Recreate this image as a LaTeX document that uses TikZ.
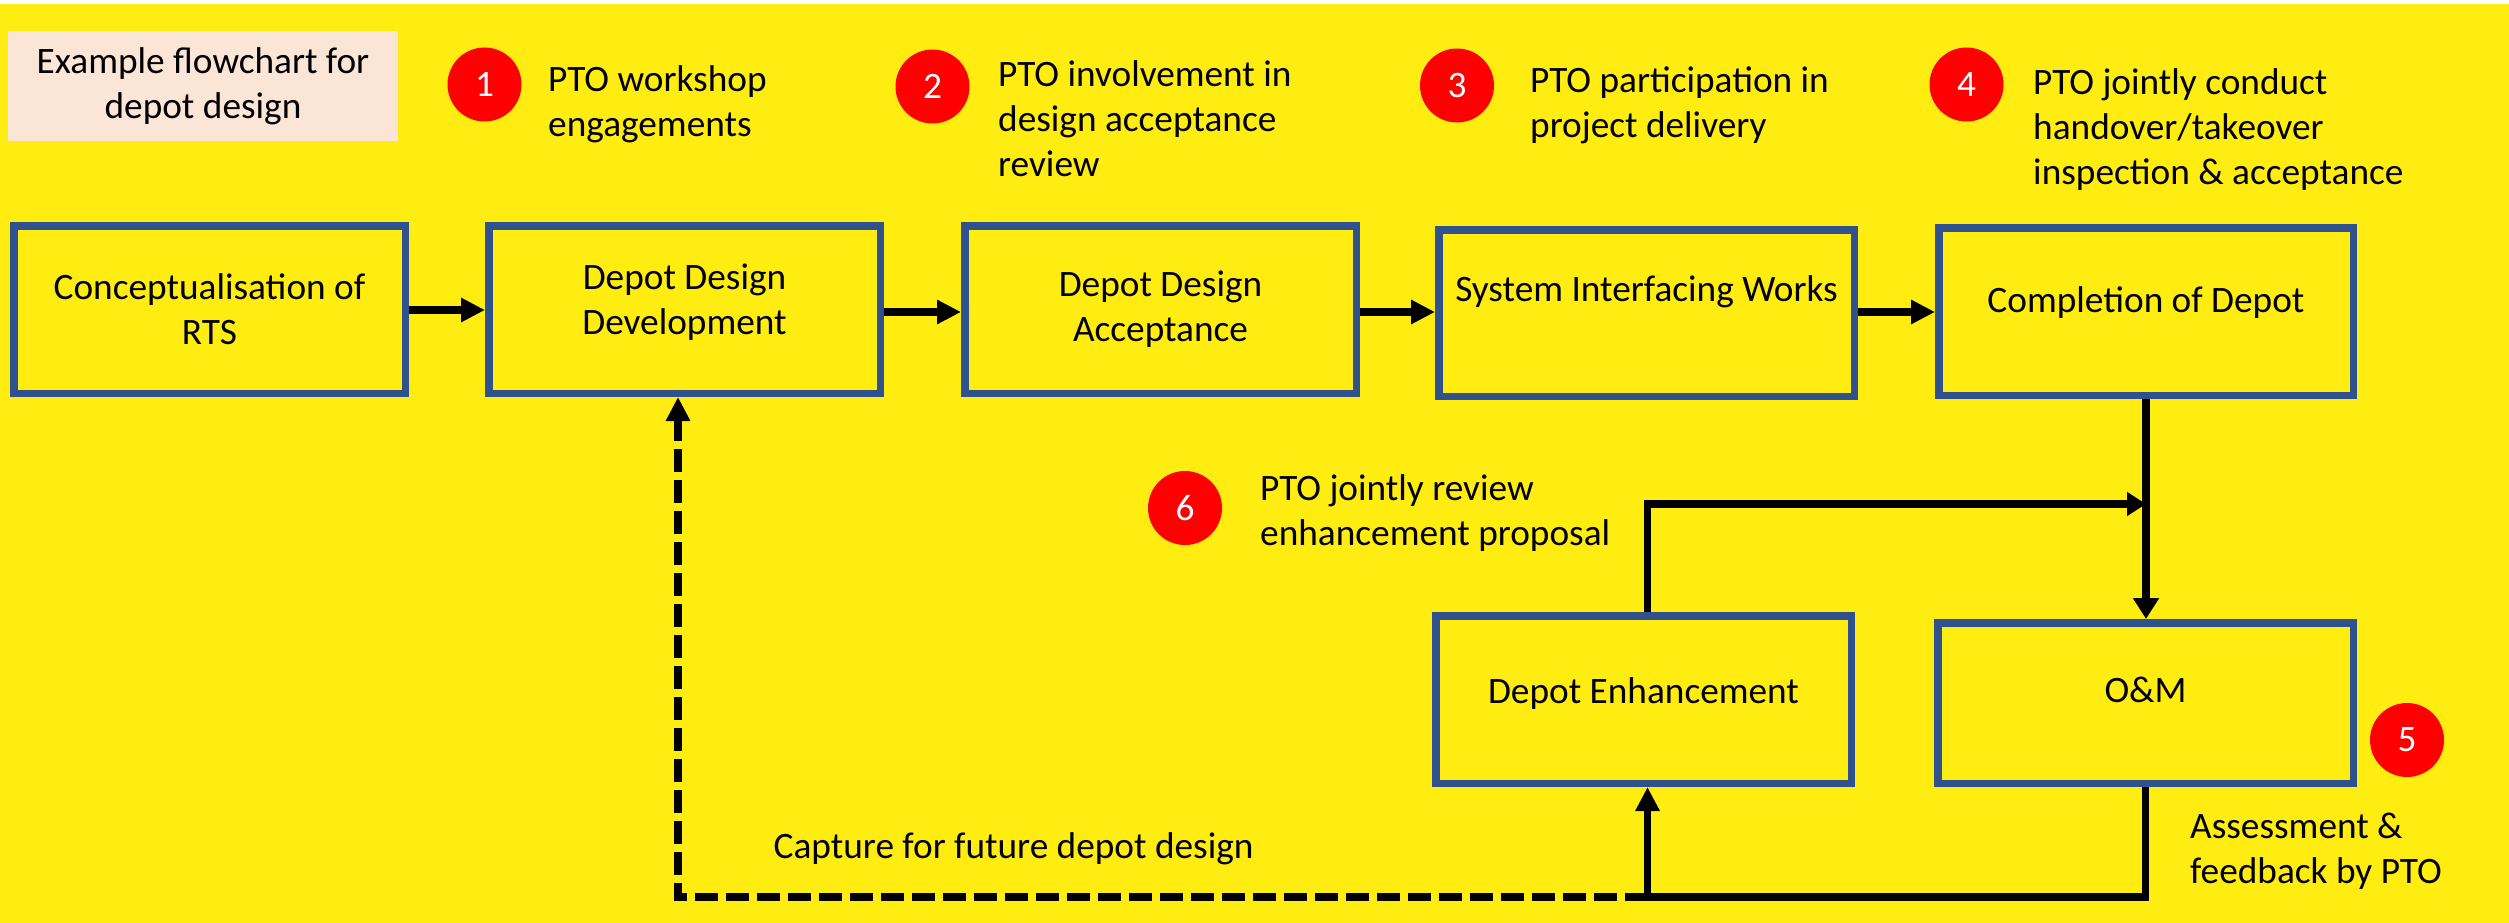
\documentclass[tikz,border=0pt]{standalone}
\usepackage{fontspec}
\setmainfont{Carlito}
\usetikzlibrary{arrows.meta}

\definecolor{bgyellow}{RGB}{255,236,16}
\definecolor{boxblue}{RGB}{47,82,143}
\definecolor{notepink}{RGB}{251,229,214}
\definecolor{badgered}{RGB}{255,0,0}

\tikzset{
  txt/.style={font=\fontsize{37.3}{45}\selectfont},
  stage/.style={txt, rectangle, draw=boxblue, line width=7.5pt, fill=bgyellow,
    align=center, inner sep=0pt},
  stdbox/.style={stage, minimum width=391.5pt, minimum height=167.5pt},
  widebox/.style={stage, minimum width=415.5pt, minimum height=167.5pt},
  badge/.style={circle, fill=badgered, minimum size=74pt, inner sep=0pt,
    text=white, txt},
  % notes are placed by the baseline of their last line
  note/.style={txt, align=left, anchor=base west, inner sep=0pt},
  flow/.style={line width=7.5pt, -{Triangle[length=24pt,width=23pt]}},
  feedback/.style={line width=8pt, dash pattern=on 23pt off 8pt,
    -{Triangle[length=24pt,width=23pt]}}
}

\begin{document}
\begin{tikzpicture}[x=1pt, y=-1pt]
  % canvas
  \useasboundingbox (0,0) rectangle (2509,923);
  \fill[white] (0,0) rectangle (2509,923);
  \fill[bgyellow] (0,4) rectangle (2509,923);

  % heading
  \node[txt, fill=notepink, minimum width=390pt, minimum height=110pt,
        align=center, inner sep=0pt] (title) at (203,86)
        {Example flowchart for\\depot design};

  % process stages
  \node[stdbox] (b1) at (209.5,309.5) {Conceptualisation of\\RTS};
  \node[stdbox, text depth=20pt] (b2) at (684.5,309.5) {Depot Design\\Development};
  \node[stdbox] (b3) at (1160.5,309.5) {Depot Design\\Acceptance};
  \node[widebox, minimum height=166.5pt, text height=26pt, text depth=49pt]
        (b4) at (1646.5,313) {System Interfacing Works};
  \node[widebox, minimum width=414.5pt, text height=26pt, text depth=25pt]
        (b5) at (2146,311.5) {Completion of Depot};
  \node[widebox, text height=26pt, text depth=19pt]
        (b6) at (1643.5,699.5) {Depot Enhancement};
  \node[widebox, minimum height=160.5pt, text height=26pt, text depth=27pt]
        (b7) at (2145.5,703) {O\&M};

  % numbered badges
  \node[badge] (n1) at (484.5,84.5) {1};
  \node[badge] (n2) at (932.5,86.5) {2};
  \node[badge] (n3) at (1457,85.5) {3};
  \node[badge] (n4) at (1966.5,84.5) {4};
  \node[badge] (n5) at (2407,740) {5};
  \node[badge] (n6) at (1185,508) {6};

  % badge notes
  \node[note] (t1) at (548,137) {PTO workshop\\engagements};
  \node[note] (t2) at (998,176) {PTO involvement in\\design acceptance\\review};
  \node[note] (t3) at (1530,138) {PTO participation in\\project delivery};
  \node[note] (t4) at (2033,185) {PTO jointly conduct\\handover/takeover\\inspection \& acceptance};
  \node[note] (t5) at (2190,883) {Assessment \&\\feedback by PTO};
  \node[note] (t6) at (1260,545) {PTO jointly review\\enhancement proposal};
  \node[note] (tc) at (773.5,858) {Capture for future depot design};

  % main sequence
  \draw[flow] (b1.east |- 0,310) -- (b2.west |- 0,310);
  \draw[flow] (b2.east |- 0,312) -- (b3.west |- 0,312);
  \draw[flow] (b3.east |- 0,312) -- (b4.west |- 0,312);
  \draw[flow] (b4.east |- 0,312) -- (b5.west |- 0,312);
  \draw[flow, -{Triangle[length=21pt,width=25pt]}] (b5.south) -- (b5.south |- b7.north);

  % enhancement loop
  \coordinate (jt) at (2146,504);
  \coordinate (jb) at (1647.5,897);
  \coordinate (jl) at (678,897);
  \draw[flow, -{Triangle[length=19pt,width=23pt]}] (b6.north -| jb) |- (jt);
  \draw[flow] (b7.south) |- (jb) -- (jb |- b6.south);
  \draw[feedback] (jb) -- (jl) -- (jl |- b2.south);
\end{tikzpicture}
\end{document}
